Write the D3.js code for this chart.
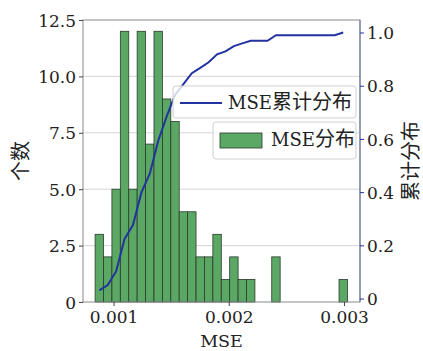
<!DOCTYPE html>
<html>
<head>
<meta charset="utf-8">
<script src="https://cdn.jsdelivr.net/npm/d3@7"></script>
<style>
  body { margin: 0; background: #fff; }
  svg text { font-family: "DejaVu Serif", "Noto Sans CJK SC"; }
</style>
</head>
<body>
<svg id="chart" width="423" height="351"></svg>
<script>
// histogram of MSE, 30 bins between min and max
const mseMin = 0.00084;
const mseMax = 0.00303;
const binCounts = [3, 2, 5, 12, 5, 12, 7, 12, 9, 8, 4, 4, 2, 2, 3, 1, 2, 1, 1, 0,
                   0, 2, 0, 0, 0, 0, 0, 0, 0, 1];
// cumulative share read at each bin centre
const cumShare = [0.031, 0.051, 0.102, 0.224, 0.276, 0.398, 0.469, 0.592, 0.684, 0.765,
                  0.806, 0.847, 0.867, 0.888, 0.918, 0.929, 0.949, 0.959, 0.969, 0.969,
                  0.969, 0.990, 0.990, 0.990, 0.990, 0.990, 0.990, 0.990, 0.990, 1.0];
const xTicks = [0.001, 0.002, 0.003];
const leftTicks = [0, 2.5, 5, 7.5, 10, 12.5];
const leftTickLabels = ['0', '2.5', '5.0', '7.5', '10.0', '12.5'];
const rightTicks = [0, 0.2, 0.4, 0.6, 0.8, 1.0];
const rightTickLabels = ['0', '0.2', '0.4', '0.6', '0.8', '1.0'];

const mLeft = 83, mRight = 360, mTop = 20, mBottom = 302;
const svg = d3.select('#chart');

const x = d3.scaleLinear().domain([0.000735, 0.003139]).range([mLeft, mRight]);
const yL = d3.scaleLinear().domain([0, 12.5]).range([mBottom, mTop]);
const yR = d3.scaleLinear().domain([-0.013, 1.047]).range([mBottom, mTop]);

const binW = (mseMax - mseMin) / binCounts.length;
const bins = binCounts.map((c, i) => ({ x0: mseMin + i * binW, x1: mseMin + (i + 1) * binW, c }));

// grid
svg.append('g').selectAll('line')
  .data(leftTicks.slice(1, -1))
  .enter().append('line')
  .attr('x1', mLeft).attr('x2', mRight)
  .attr('y1', d => yL(d)).attr('y2', d => yL(d))
  .attr('stroke', '#d6d6d6').attr('stroke-width', 1);

// bars
svg.append('g').selectAll('rect')
  .data(bins.filter(b => b.c > 0))
  .enter().append('rect')
  .attr('x', d => x(d.x0))
  .attr('width', d => x(d.x1) - x(d.x0))
  .attr('y', d => yL(d.c))
  .attr('height', d => yL(0) - yL(d.c))
  .attr('fill', '#5ba865')
  .attr('stroke', '#2a3a2c')
  .attr('stroke-width', 0.8);

// cumulative line
const line = d3.line()
  .x((d, i) => x((bins[i].x0 + bins[i].x1) / 2))
  .y(d => yR(d));
svg.append('path')
  .datum(cumShare)
  .attr('d', line)
  .attr('fill', 'none')
  .attr('stroke', '#2233a0')
  .attr('stroke-width', 2);

// frame
svg.append('rect')
  .attr('x', mLeft).attr('y', mTop)
  .attr('width', mRight - mLeft).attr('height', mBottom - mTop)
  .attr('fill', 'none').attr('stroke', '#8a8a8a').attr('stroke-width', 1);
svg.append('line')
  .attr('x1', mRight).attr('x2', mRight).attr('y1', mTop).attr('y2', mBottom)
  .attr('stroke', '#6670a8').attr('stroke-width', 1);

// axes
const xAxis = svg.append('g').attr('transform', `translate(0,${mBottom})`)
  .call(d3.axisBottom(x).tickValues(xTicks).tickFormat(d3.format('.3f')).tickSize(4).tickPadding(3));
const yAxisL = svg.append('g').attr('transform', `translate(${mLeft},0)`)
  .call(d3.axisLeft(yL).tickValues(leftTicks).tickFormat((d, i) => leftTickLabels[i]).tickSize(4).tickPadding(3));
const yAxisR = svg.append('g').attr('transform', `translate(${mRight},0)`)
  .call(d3.axisRight(yR).tickValues(rightTicks).tickFormat((d, i) => rightTickLabels[i]).tickSize(4).tickPadding(3));

[xAxis, yAxisL, yAxisR].forEach(a => {
  a.select('.domain').remove();
  a.selectAll('text').attr('font-size', 17).attr('fill', '#222');
  a.selectAll('.tick line').attr('stroke', '#444');
});
yAxisR.selectAll('.tick line').attr('stroke', '#2233a0');
yAxisL.selectAll('text').attr('dy', '0.36em');
yAxisR.selectAll('text').attr('dy', '0.36em');
xAxis.selectAll('text').attr('dy', '0.8em');

// axis titles
svg.append('text')
  .attr('transform', `translate(28,${(mTop + mBottom) / 2}) rotate(-90)`)
  .attr('text-anchor', 'middle')
  .attr('font-size', 20).attr('fill', '#222')
  .text('个数');
svg.append('text')
  .attr('transform', `translate(418,${(mTop + mBottom) / 2}) rotate(-90)`)
  .attr('text-anchor', 'middle')
  .attr('font-size', 20).attr('fill', '#222')
  .text('累计分布');
svg.append('text')
  .attr('x', (mLeft + mRight) / 2).attr('y', 347)
  .attr('text-anchor', 'middle')
  .attr('font-size', 17.5).attr('fill', '#222')
  .text('MSE');

// legend label: latin part and chinese part at their own sizes
function legendText(g, xPos, yPos, latin, cjk) {
  const t = g.append('text')
    .attr('x', xPos).attr('y', yPos).attr('dy', '0.35em').attr('fill', '#222');
  t.append('tspan').attr('font-size', 18).text(latin);
  t.append('tspan').attr('font-size', 20).text(cjk);
}

// legends (one per axis)
const leg1 = svg.append('g');
leg1.append('rect')
  .attr('x', 173).attr('y', 86).attr('width', 183).attr('height', 32).attr('rx', 3)
  .attr('fill', 'rgba(255,255,255,0.8)').attr('stroke', '#d0d0d0');
leg1.append('line')
  .attr('x1', 180).attr('x2', 222).attr('y1', 103).attr('y2', 103)
  .attr('stroke', '#2233a0').attr('stroke-width', 2);
legendText(leg1, 228, 103, 'MSE', '累计分布');

const leg2 = svg.append('g');
leg2.append('rect')
  .attr('x', 213).attr('y', 122).attr('width', 143).attr('height', 37).attr('rx', 3)
  .attr('fill', 'rgba(255,255,255,0.8)').attr('stroke', '#d0d0d0');
leg2.append('rect')
  .attr('x', 220).attr('y', 133).attr('width', 42).attr('height', 15)
  .attr('fill', '#5ba865').attr('stroke', '#2a3a2c').attr('stroke-width', 0.8);
legendText(leg2, 271, 140, 'MSE', '分布');
</script>
</body>
</html>
